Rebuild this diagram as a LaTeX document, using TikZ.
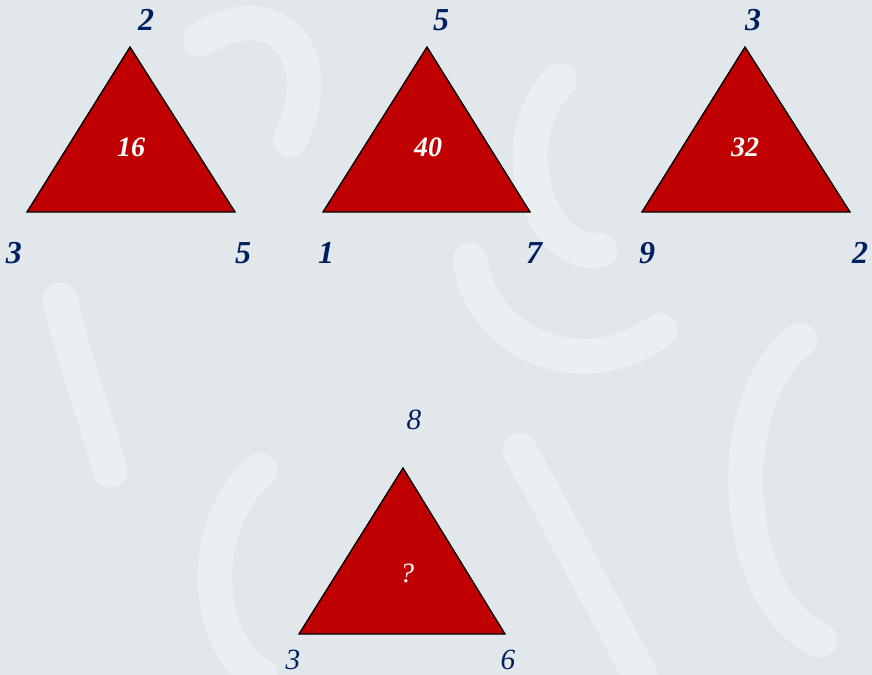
\documentclass[tikz,border=0pt]{standalone}
\usepackage{fontspec}
\setmainfont{Liberation Serif}
\usetikzlibrary{positioning}
\definecolor{pagebg}{RGB}{226,231,235}
\definecolor{trired}{RGB}{192,0,0}
\definecolor{labnavy}{RGB}{0,32,96}

\begin{document}
\begin{tikzpicture}[x=0.75pt, y=-0.75pt,
  tri/.style={fill=trired, draw=black, line width=1pt, line join=miter},
  inner/.style={text=white, font=\fontsize{21}{21}\selectfont\bfseries\itshape, inner sep=0pt},
  corner/.style={text=labnavy, font=\fontsize{24}{24}\selectfont\bfseries\itshape, inner sep=0pt},
  cornerq/.style={text=labnavy, font=\fontsize{22}{22}\selectfont\itshape, inner sep=0pt}]
  \fill[pagebg] (0,0) rectangle (872,675);
  \useasboundingbox (0,0) rectangle (872,675);
  % soft white strokes of the background numerals
  \begin{scope}[white, opacity=0.35, line width=26pt, line cap=round]
    \draw (200,40) .. controls (280,-10) and (330,60) .. (290,140);
    \draw (60,300) .. controls (80,380) and (100,430) .. (110,470);
    \draw (560,80) .. controls (500,140) and (540,260) .. (600,250);
    \draw (470,260) .. controls (480,340) and (580,390) .. (660,330);
    \draw (260,470) .. controls (200,520) and (200,640) .. (260,675);
    \draw (520,450) -- (640,675);
    \draw (800,340) .. controls (720,400) and (730,600) .. (820,640);
  \end{scope}
  % first triangle
  \coordinate (topA) at (130,47);
  \coordinate (leftA) at (27,212);
  \coordinate (rightA) at (235,212);
  \draw[tri] (topA) -- (rightA) -- (leftA) -- cycle;
  \node[inner] (sumA) at (131,147) {16};
  \node[corner] (nA) at (146,20) {2};
  \node[corner] (wA) at (14,253) {3};
  \node[corner] (eA) at (243,253) {5};
  % second triangle
  \coordinate (topB) at (427,47);
  \coordinate (leftB) at (323,212);
  \coordinate (rightB) at (530,212);
  \draw[tri] (topB) -- (rightB) -- (leftB) -- cycle;
  \node[inner] (sumB) at (428,147) {40};
  \node[corner] (nB) at (441,20) {5};
  \node[corner] (wB) at (326,253) {1};
  \node[corner] (eB) at (534,253) {7};
  % third triangle
  \coordinate (topC) at (745,47);
  \coordinate (leftC) at (642,212);
  \coordinate (rightC) at (850,212);
  \draw[tri] (topC) -- (rightC) -- (leftC) -- cycle;
  \node[inner] (sumC) at (745,147) {32};
  \node[corner] (nC) at (753,20) {3};
  \node[corner] (wC) at (647,253) {9};
  \node[corner] (eC) at (860,253) {2};
  % the open triangle
  \coordinate (topD) at (403,468);
  \coordinate (leftD) at (299,634);
  \coordinate (rightD) at (505,634);
  \draw[tri] (topD) -- (rightD) -- (leftD) -- cycle;
  \node[inner, font=\fontsize{21}{21}\selectfont\itshape] (sumD) at (407,573) {?};
  \node[cornerq] (nD) at (414,420) {8};
  \node[cornerq] (wD) at (293,660) {3};
  \node[cornerq] (eD) at (508,660) {6};
\end{tikzpicture}
\end{document}
